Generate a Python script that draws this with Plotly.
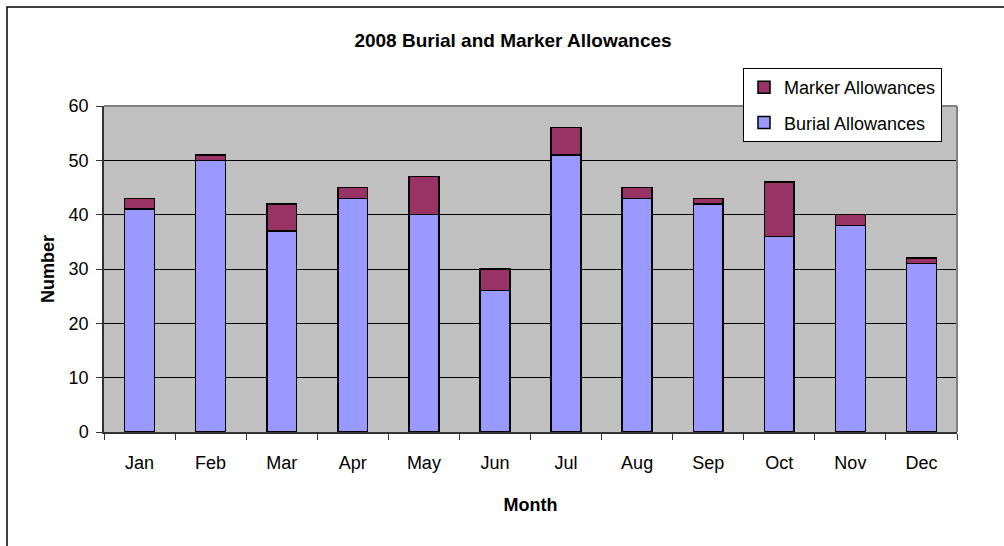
import plotly.graph_objects as go

months = ["Jan", "Feb", "Mar", "Apr", "May", "Jun", "Jul", "Aug", "Sep", "Oct", "Nov", "Dec"]
burial = [41, 50, 37, 43, 40, 26, 51, 43, 42, 36, 38, 31]
marker = [2, 1, 5, 2, 7, 4, 5, 2, 1, 10, 2, 1]
y_ticks = [0, 10, 20, 30, 40, 50, 60]

# plot area in pixels: left 104, right 957, top 106, bottom 432
L, R, T, B = 104, 47, 106, 114
W, H = 1004, 546
pw, ph = W - L - R, H - T - B

fig = go.Figure()
fig.add_trace(go.Bar(
    x=months, y=burial, name="Burial Allowances", legendgroup="b", legendrank=2,
    marker=dict(color="#9999FF", line=dict(color="black", width=1.5)),
))
fig.add_trace(go.Bar(
    x=months, y=marker, name="Marker Allowances", legendgroup="m", legendrank=1,
    marker=dict(color="#993366", line=dict(color="black", width=1.5)),
))

# outer chart frame (Excel chart area border), only top/left edges inside the picture
fx0 = (7 - L) / pw
fy1 = (H - B - 7) / ph
fig.add_shape(type="rect", xref="paper", yref="paper",
              x0=fx0, x1=1.2, y0=-0.5, y1=fy1,
              line=dict(color="black", width=1.5), layer="below")
# grey border top/right of plot area
fig.add_shape(type="line", xref="paper", yref="paper", x0=0, x1=1, y0=1, y1=1,
              line=dict(color="#808080", width=2))
fig.add_shape(type="line", xref="paper", yref="paper", x0=1, x1=1, y0=0, y1=1,
              line=dict(color="#808080", width=2))

fig.update_layout(
    width=W, height=H,
    margin=dict(l=L, r=R, t=T, b=B),
    barmode="stack",
    bargap=0.58,
    plot_bgcolor="#C0C0C0",
    paper_bgcolor="white",
    font=dict(family="Liberation Sans, Arial, sans-serif", size=18, color="black"),
    title=dict(text="<b>2008 Burial and Marker Allowances</b>", xref="container",
               x=513 / W, xanchor="center",
               y=1 - 40 / H, yanchor="middle", font=dict(size=19)),
    xaxis=dict(
        title=dict(text="<b>Month</b>", font=dict(size=18), standoff=26),
        tickson="boundaries", ticks="outside", ticklen=6, tickcolor="#333333",
        showline=True, linecolor="#333333", linewidth=1.5,
        tickfont=dict(size=18), ticklabelstandoff=14,
    ),
    yaxis=dict(
        title=dict(text="<b>Number</b>", font=dict(size=18), standoff=9),
        range=[0, 60], tickvals=y_ticks, ticks="outside", ticklen=6, tickcolor="#333333",
        showline=True, linecolor="#333333", linewidth=1.5,
        showgrid=True, gridcolor="black", gridwidth=1,
        zeroline=False, tickfont=dict(size=18), ticklabelstandoff=4,
    ),
    legend=dict(
        x=(743 - L) / pw, y=(H - B - 68) / ph, xanchor="left", yanchor="top",
        bgcolor="white", bordercolor="black", borderwidth=1,
        font=dict(size=18), traceorder="grouped", tracegroupgap=9,
    ),
)

fig.write_html("out.html", config={"displayModeBar": False},
               post_script="document.body.style.margin='0';")
